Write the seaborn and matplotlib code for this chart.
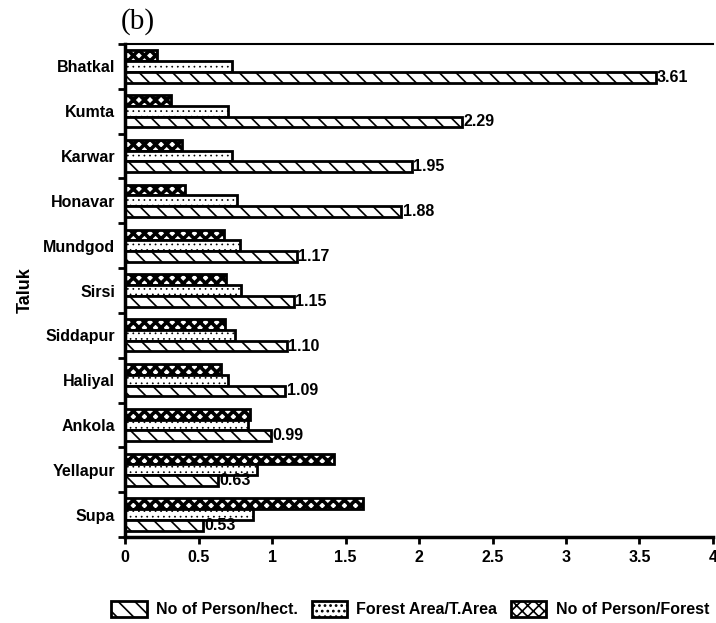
import pandas as pd
import seaborn as sns
import matplotlib.pyplot as plt
from matplotlib.patches import Patch

# Values
taluks = ['Bhatkal', 'Kumta', 'Karwar', 'Honavar', 'Mundgod', 'Sirsi',
          'Siddapur', 'Haliyal', 'Ankola', 'Yellapur', 'Supa']
person_hect = [3.61, 2.29, 1.95, 1.88, 1.17, 1.15, 1.10, 1.09, 0.99, 0.63, 0.53]
forest_area = [0.73, 0.70, 0.73, 0.76, 0.78, 0.79, 0.75, 0.70, 0.84, 0.90, 0.87]
person_forest = [0.22, 0.31, 0.39, 0.41, 0.67, 0.69, 0.68, 0.65, 0.85, 1.42, 1.62]

series = ['No of Person/Forest', 'Forest Area/T.Area', 'No of Person/hect.']
hatches = {'No of Person/Forest': 'xxx',
           'Forest Area/T.Area': '...',
           'No of Person/hect.': '\\\\'}
hatch_lw = {'No of Person/Forest': 2.6,
            'Forest Area/T.Area': 0.5,
            'No of Person/hect.': 1.2}

df = pd.concat([
    pd.DataFrame({'taluk': taluks, 'value': person_forest, 'series': series[0]}),
    pd.DataFrame({'taluk': taluks, 'value': forest_area, 'series': series[1]}),
    pd.DataFrame({'taluk': taluks, 'value': person_hect, 'series': series[2]}),
])

sns.set_theme(style='ticks')
plt.rcParams['font.family'] = ['Liberation Sans', 'DejaVu Sans']
plt.rcParams['hatch.color'] = 'black'
for key in ['text.color', 'axes.labelcolor', 'xtick.color', 'ytick.color',
            'axes.edgecolor']:
    plt.rcParams[key] = 'black'


def make_patch(name):
    plt.rcParams['hatch.linewidth'] = hatch_lw[name]
    return Patch(facecolor='white', edgecolor='black', linewidth=2,
                 hatch=hatches[name], label=name)


fig = plt.figure(figsize=(7.16, 6.23), dpi=100)
ax = fig.add_axes([0.1746, 0.138, 0.8212, 0.7914])

sns.barplot(data=df, x='value', y='taluk', hue='series', hue_order=series,
            order=taluks, orient='h', width=0.72,
            palette=['white'] * 3, edgecolor='black', linewidth=2,
            legend=False, ax=ax)

for cont, name in zip(ax.containers, series):
    for bar in cont:
        bar.set_hatch(hatches[name])
        bar.set_edgecolor('black')
        if hasattr(bar, 'set_hatch_linewidth'):
            bar.set_hatch_linewidth(hatch_lw[name])
        else:
            bar._hatch_linewidth = hatch_lw[name]

ax.bar_label(ax.containers[2], fmt='%.2f', padding=1, fontsize=11.5,
             fontweight='bold')

ax.set_xlim(0, 4)
ax.set_ylim(10.5, -0.5)
ax.set_xticks([0, 0.5, 1, 1.5, 2, 2.5, 3, 3.5, 4])
ax.set_xticklabels(['0', '0.5', '1', '1.5', '2', '2.5', '3', '3.5', '4'],
                   fontsize=11.5, fontweight='bold')
ax.set_yticks(range(len(taluks)))
ax.set_yticklabels(taluks, fontsize=11.5, fontweight='bold')
ax.set_yticks([i - 0.5 for i in range(len(taluks) + 1)], minor=True)
ax.tick_params(axis='y', which='major', length=0, pad=7)
ax.tick_params(axis='y', which='minor', length=5, width=2)
ax.tick_params(axis='x', length=5, width=2, pad=4)

ax.set_xlabel('')
ax.set_ylabel('Taluk', fontsize=13, fontweight='bold', labelpad=7)

for side in ['left', 'bottom']:
    ax.spines[side].set_linewidth(2.5)
ax.spines['top'].set_visible(True)
ax.spines['top'].set_linewidth(1.5)
ax.spines['right'].set_visible(False)

fig.text(0.168, 0.966, '(b)', fontsize=21, ha='left', va='center',
         family=['Liberation Serif', 'DejaVu Serif'])

handles = [make_patch(s) for s in reversed(series)]
plt.rcParams['hatch.linewidth'] = 1.2
fig.legend(handles=handles, loc='lower center', bbox_to_anchor=(0.573, -0.014),
           ncol=3, frameon=False, handlelength=2.2, handleheight=1.1,
           columnspacing=0.85, handletextpad=0.6,
           prop={'size': 11.5, 'weight': 'bold'})

fig.savefig('out.png', dpi=100)
